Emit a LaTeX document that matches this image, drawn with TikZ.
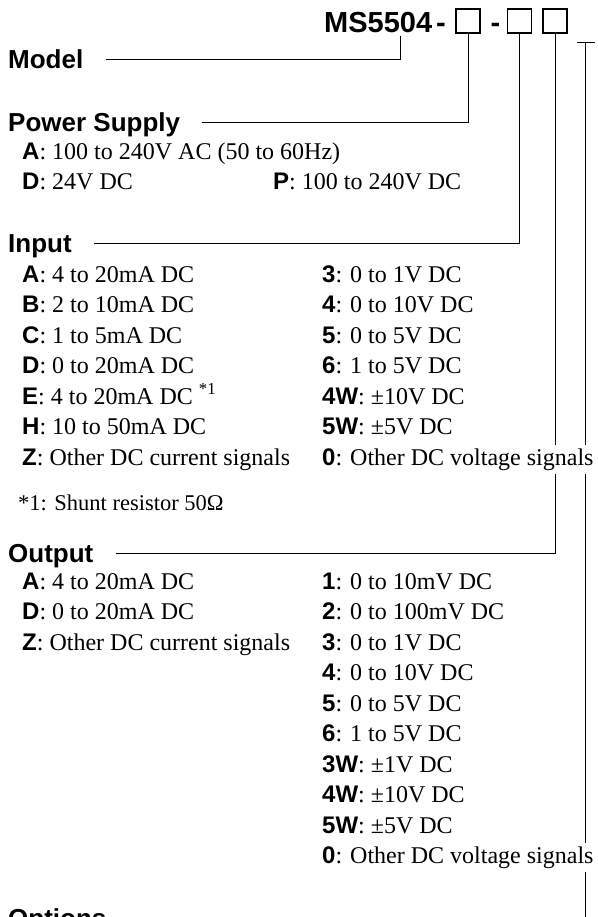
\documentclass[tikz,border=0pt]{standalone}
\usepackage{fontspec}
\setmainfont{Liberation Serif}
\newfontfamily\headfont{Liberation Sans}
\newcommand\sel[1]{{\headfont\bfseries #1}}

\begin{document}
\begin{tikzpicture}[
    x=1pt, y=1pt,
    head/.style={anchor=west, inner sep=0pt, text height=19pt, text depth=0pt,
      font=\headfont\bfseries\fontsize{26}{30}\selectfont},
    item/.style={anchor=base west, inner xsep=0pt, inner ysep=3.5pt,
      font=\fontsize{24}{28}\selectfont},
    cut/.style={fill=white},
    codebox/.style={draw, line width=1.8pt, minimum size=24pt, inner sep=0pt},
    leader/.style={line width=0.9pt}
]
  \def\dy{30.5}
  \def\xl{22}
  \def\xr{322}
  \def\gap{22pt}

  \useasboundingbox (0,0) rectangle (597,-917);

  % model code
  \node[anchor=base west, inner sep=0pt,
    font=\headfont\bfseries\fontsize{29}{33}\selectfont] (title) at (324,-33) {MS5504};
  \node[anchor=base, inner sep=0pt,
    font=\headfont\bfseries\fontsize{29}{33}\selectfont] (dash1) at (441,-33) {-};
  \node[anchor=base, inner sep=0pt,
    font=\headfont\bfseries\fontsize{29}{33}\selectfont] (dash2) at (495.5,-33) {-};
  \node[codebox] (box1) at (468,-21) {};
  \node[codebox] (box2) at (519.5,-21) {};
  \node[codebox] (box3) at (555,-21) {};

  \coordinate (mtap) at (400,-36);
  \coordinate (tail) at (585,-42);
  \coordinate (tailL) at (577,-42);
  \coordinate (tailR) at (595,-42);

  % headings
  \node[head] (model) at (8,-59) {Model};
  \node[head] (power) at (8,-122) {Power Supply};
  \node[head] (input) at (8,-243) {Input};
  \node[head] (output) at (8,-553) {Output};
  \node[head] (options) at (8,-918) {Options};

  % leaders
  \draw[leader] ([xshift=\gap]model.east) -| (mtap);
  \draw[leader] ([xshift=\gap]power.east) -| (box1.south);
  \draw[leader] ([xshift=\gap]input.east) -| (box2.south);
  \draw[leader] ([xshift=\gap]output.east) -| (box3.south);
  \draw[leader] ([xshift=\gap]options.east) -| (tail);
  \draw[leader] (tailL) -- (tailR);

  % power supply
  \node[item] (psA) at (\xl,-160) {\sel{A}: 100 to 240V AC (50 to 60Hz)};
  \node[item] (psD) at (\xl,-190) {\sel{D}: 24V DC};
  \node[item] (psP) at (273,-190) {\sel{P}: 100 to 240V DC};

  % input
  \foreach \key/\txt [count=\i] in {%
    A/4 to 20mA DC, B/2 to 10mA DC, C/1 to 5mA DC, D/0 to 20mA DC,
    E/{4 to 20mA DC \textsuperscript{*1}}, H/10 to 50mA DC,
    Z/Other DC current signals}{
    \node[item] (inL\i) at (\xl,{-282-(\i-1)*\dy}) {\sel{\key}: \txt};
  }
  \foreach \key/\txt [count=\i] in {%
    3/0 to 1V DC, 4/0 to 10V DC, 5/0 to 5V DC, 6/1 to 5V DC,
    4W/±10V DC, 5W/±5V DC}{
    \node[item] (inR\i) at (\xr,{-282-(\i-1)*\dy}) {\sel{\key}: \txt};
  }
  \node[item, cut] (inR7) at (\xr,{-282-6*\dy}) {\sel{0}: Other DC voltage signals};

  \node[item, font=\fontsize{22.5}{26}\selectfont] (note) at (18,-510)
    {*1: Shunt resistor 50Ω};

  % output
  \foreach \key/\txt [count=\i] in {%
    A/4 to 20mA DC, D/0 to 20mA DC, Z/Other DC current signals}{
    \node[item] (outL\i) at (\xl,{-589-(\i-1)*\dy}) {\sel{\key}: \txt};
  }
  \foreach \key/\txt [count=\i] in {%
    1/0 to 10mV DC, 2/0 to 100mV DC, 3/0 to 1V DC, 4/0 to 10V DC,
    5/0 to 5V DC, 6/1 to 5V DC, 3W/±1V DC, 4W/±10V DC, 5W/±5V DC}{
    \node[item] (outR\i) at (\xr,{-589-(\i-1)*\dy}) {\sel{\key}: \txt};
  }
  \node[item, cut] (outR10) at (\xr,{-589-9*\dy}) {\sel{0}: Other DC voltage signals};
\end{tikzpicture}
\end{document}
